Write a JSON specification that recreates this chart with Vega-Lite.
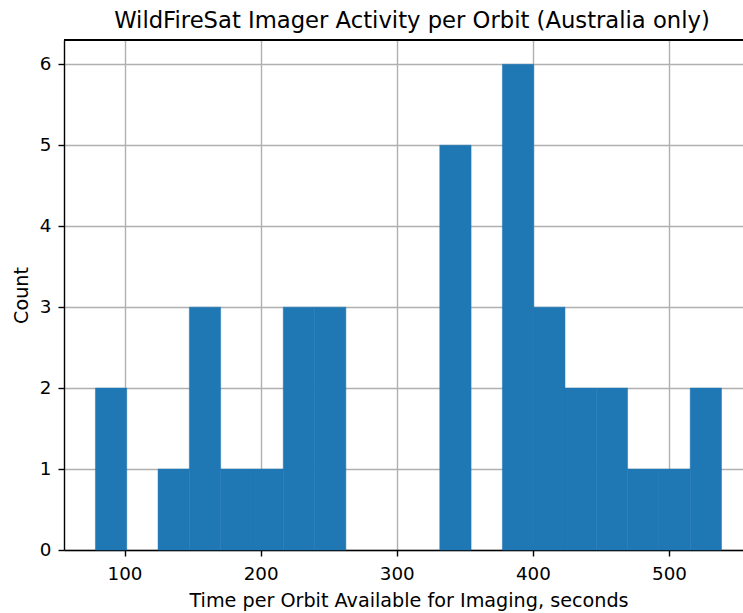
{
  "$schema": "https://vega.github.io/schema/vega-lite/v6.json",
  "autosize": {"type": "none"},
  "padding": {"left": 64, "top": 40, "right": 0, "bottom": 63},
  "width": 679,
  "height": 510,
  "background": "white",
  "title": {
    "text": "WildFireSat Imager Activity per Orbit (Australia only)",
    "frame": "group",
    "anchor": "middle",
    "dx": 8.5,
    "dy": 23,
    "offset": 12,
    "baseline": "alphabetic",
    "font": "DejaVu Sans",
    "fontSize": 22.7,
    "fontWeight": "normal",
    "color": "#000000"
  },
  "config": {
    "view": {"stroke": null},
    "axis": {
      "labelFont": "DejaVu Sans",
      "labelFontSize": 18.3,
      "labelColor": "#000000",
      "titleFont": "DejaVu Sans",
      "titleFontSize": 19.2,
      "titleFontWeight": "normal",
      "titleColor": "#000000",
      "domainColor": "#000000",
      "domainWidth": 1.4,
      "tickColor": "#000000",
      "tickWidth": 1.4,
      "tickSize": 6,
      "gridColor": "#b0b0b0",
      "gridWidth": 1.4,
      "gridOpacity": 1,
      "zindex": 1
    }
  },
  "data": {
    "values": [
      {"bin_start": 78.6, "bin_end": 101.6, "count": 2},
      {"bin_start": 101.6, "bin_end": 124.6, "count": 0},
      {"bin_start": 124.6, "bin_end": 147.6, "count": 1},
      {"bin_start": 147.6, "bin_end": 170.6, "count": 3},
      {"bin_start": 170.6, "bin_end": 193.6, "count": 1},
      {"bin_start": 193.6, "bin_end": 216.6, "count": 1},
      {"bin_start": 216.6, "bin_end": 239.6, "count": 3},
      {"bin_start": 239.6, "bin_end": 262.6, "count": 3},
      {"bin_start": 262.6, "bin_end": 285.6, "count": 0},
      {"bin_start": 285.6, "bin_end": 308.6, "count": 0},
      {"bin_start": 308.6, "bin_end": 331.6, "count": 0},
      {"bin_start": 331.6, "bin_end": 354.6, "count": 5},
      {"bin_start": 354.6, "bin_end": 377.6, "count": 0},
      {"bin_start": 377.6, "bin_end": 400.6, "count": 6},
      {"bin_start": 400.6, "bin_end": 423.6, "count": 3},
      {"bin_start": 423.6, "bin_end": 446.6, "count": 2},
      {"bin_start": 446.6, "bin_end": 469.6, "count": 2},
      {"bin_start": 469.6, "bin_end": 492.6, "count": 1},
      {"bin_start": 492.6, "bin_end": 515.6, "count": 1},
      {"bin_start": 515.6, "bin_end": 538.6, "count": 2}
    ]
  },
  "layer": [
    {
      "transform": [{"filter": "datum.count > 0"}],
      "mark": {"type": "rect", "color": "#1f77b4", "stroke": "#1f77b4", "strokeWidth": 0.5},
      "encoding": {
        "x": {
          "field": "bin_start",
          "type": "quantitative",
          "scale": {"domain": [55.5, 554.4], "nice": false, "zero": false},
          "axis": {
            "title": "Time per Orbit Available for Imaging, seconds",
            "values": [100, 200, 300, 400, 500],
            "format": "d",
            "labelPadding": 9,
            "titleX": 344.5,
            "titleY": 56.7,
            "titleBaseline": "alphabetic"
          }
        },
        "x2": {"field": "bin_end"},
        "y": {
          "field": "count",
          "type": "quantitative",
          "scale": {"domain": [0, 6.3], "nice": false},
          "axis": {
            "title": "Count",
            "values": [0, 1, 2, 3, 4, 5, 6],
            "format": "d",
            "labelPadding": 7,
            "titleX": -36.5,
            "titleBaseline": "alphabetic"
          }
        },
        "y2": {"datum": 0}
      }
    },
    {
      "mark": {"type": "rule", "color": "#000000", "strokeWidth": 1.4},
      "encoding": {"y": {"datum": 6.3}}
    }
  ]
}
